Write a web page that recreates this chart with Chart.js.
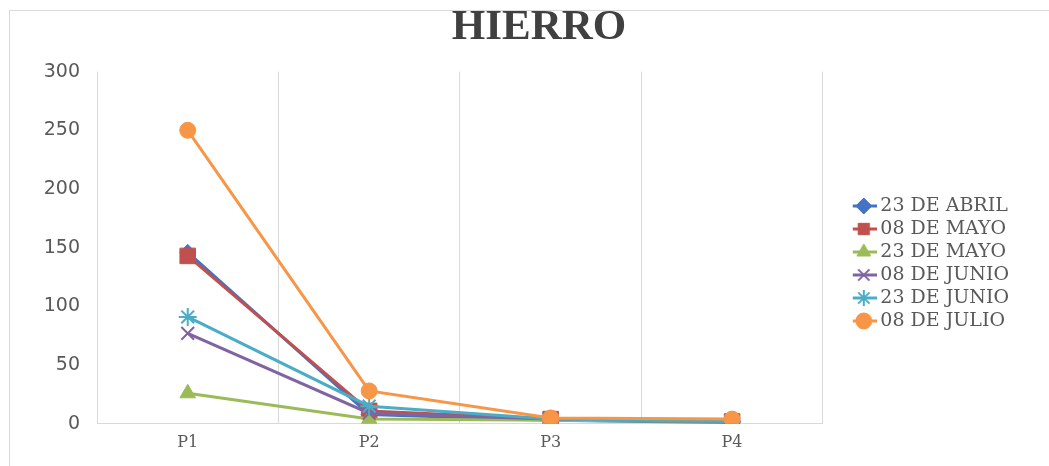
<!DOCTYPE html>
<html>
<head>
<meta charset="utf-8">
<script src="https://cdn.jsdelivr.net/npm/chart.js@4/dist/chart.umd.min.js"></script>
<style>
  html, body { margin: 0; padding: 0; background: #fff; }
  #wrap { position: relative; width: 1049px; height: 466px; }
  #frame { position: absolute; left: 9px; top: 10px; width: 1100px; height: 500px;
           border: 1px solid #d9d9d9; pointer-events: none; }
</style>
</head>
<body>
<div id="wrap">
  <canvas id="chart" width="1049" height="466"></canvas>
  <div id="frame"></div>
</div>
<script>
const categories = ["P1", "P2", "P3", "P4"];
const seriesNames = ["23 DE ABRIL", "08 DE MAYO", "23 DE MAYO", "08 DE JUNIO", "23 DE JUNIO", "08 DE JULIO"];
const abril23 = [146, 8, 3, 1];
const mayo08 = [143, 11, 4, 2];
const mayo23 = [26, 4, 3, 2];
const junio08 = [77, 9, 4, 2];
const junio23 = [91, 15, 4, 2];
const julio08 = [250, 28, 5, 4];
const yTicks = [0, 50, 100, 150, 200, 250, 300];

const seriesValues = [abril23, mayo08, mayo23, junio08, junio23, julio08];
const colors = ["#4472C4", "#C0504D", "#9BBB59", "#8064A2", "#4BACC6", "#F79646"];
const markers = ["rectRot", "rect", "triangle", "crossRot", "star", "circle"];
const radii = [8, 11, 9, 9, 9, 8];

const datasets = seriesNames.map((name, i) => ({
  label: name,
  data: seriesValues[i],
  borderColor: colors[i],
  backgroundColor: colors[i],
  borderWidth: 3,
  pointStyle: markers[i],
  pointRadius: radii[i],
  pointHoverRadius: radii[i],
  pointBorderWidth: markers[i] === "crossRot" || markers[i] === "star" ? 2 : 1,
  order: seriesNames.length - i,
}));

function legendIcon(i) {
  const c = document.createElement("canvas");
  c.width = 26;
  c.height = 18;
  const ctx = c.getContext("2d");
  ctx.strokeStyle = colors[i];
  ctx.lineWidth = 3;
  ctx.beginPath();
  ctx.moveTo(0, 9);
  ctx.lineTo(26, 9);
  ctx.stroke();
  ctx.fillStyle = colors[i];
  ctx.lineWidth = markers[i] === "crossRot" || markers[i] === "star" ? 2 : 1;
  Chart.helpers.drawPoint(ctx, { pointStyle: markers[i], radius: Math.min(radii[i], 8), rotation: 0, borderWidth: ctx.lineWidth }, 13, 9);
  return c;
}

// title centred over the whole picture, legend a bit lower than Chart.js puts it
const boxShift = {
  id: "boxShift",
  afterLayout(chart) {
    const t = chart.titleBlock;
    if (t) {
      const dx = 539 - (t.left + t.right) / 2;
      t.left += dx;
      t.right += dx;
    }
    const l = chart.legend;
    if (l) {
      l.top += 33;
      l.bottom += 33;
    }
  },
};

new Chart(document.getElementById("chart"), {
  type: "line",
  data: { labels: categories, datasets },
  plugins: [boxShift],
  options: {
    responsive: false,
    animation: false,
    layout: { padding: { left: 0, right: 30, top: 0, bottom: 5 } },
    plugins: {
      title: {
        display: true,
        text: "HIERRO",
        color: "#404040",
        font: { family: "Liberation Serif", size: 43, weight: "bold" },
        padding: { top: 2, bottom: 18 },
      },
      legend: {
        position: "right",
        labels: {
          color: "#595959",
          font: { family: "DejaVu Serif", size: 19 },
          usePointStyle: true,
          pointStyleWidth: 14,
          padding: 4,
          generateLabels: (chart) =>
            chart.data.datasets.map((ds, i) => ({
              text: ds.label,
              pointStyle: legendIcon(i),
              fillStyle: colors[i],
              strokeStyle: colors[i],
              lineWidth: 0,
              fontColor: "#595959",
              datasetIndex: i,
              hidden: false,
            })),
        },
      },
      tooltip: { enabled: false },
    },
    scales: {
      x: {
        offset: true,
        grid: {
          offset: true,
          drawTicks: false,
          color: (ctx) => (ctx.index === categories.length ? "rgba(0,0,0,0)" : "#d9d9d9"),
        },
        border: { display: true, color: "#d9d9d9" },
        ticks: { color: "#595959", font: { family: "DejaVu Serif", size: 16 }, padding: 9 },
      },
      y: {
        min: 0,
        max: 300,
        afterBuildTicks: (scale) => {
          scale.ticks = yTicks.map((v) => ({ value: v }));
        },
        afterFit: (scale) => {
          scale.width = 97;
        },
        grid: { display: false, drawTicks: false },
        border: { display: false },
        ticks: { color: "#595959", font: { family: "DejaVu Sans", size: 19 }, padding: 17 },
      },
      gap: {
        type: "linear",
        position: "right",
        afterFit: (scale) => {
          scale.width = 30;
        },
        grid: { display: false, drawTicks: false },
        border: { display: false },
        ticks: { display: false },
      },
    },
  },
});
</script>
</body>
</html>
